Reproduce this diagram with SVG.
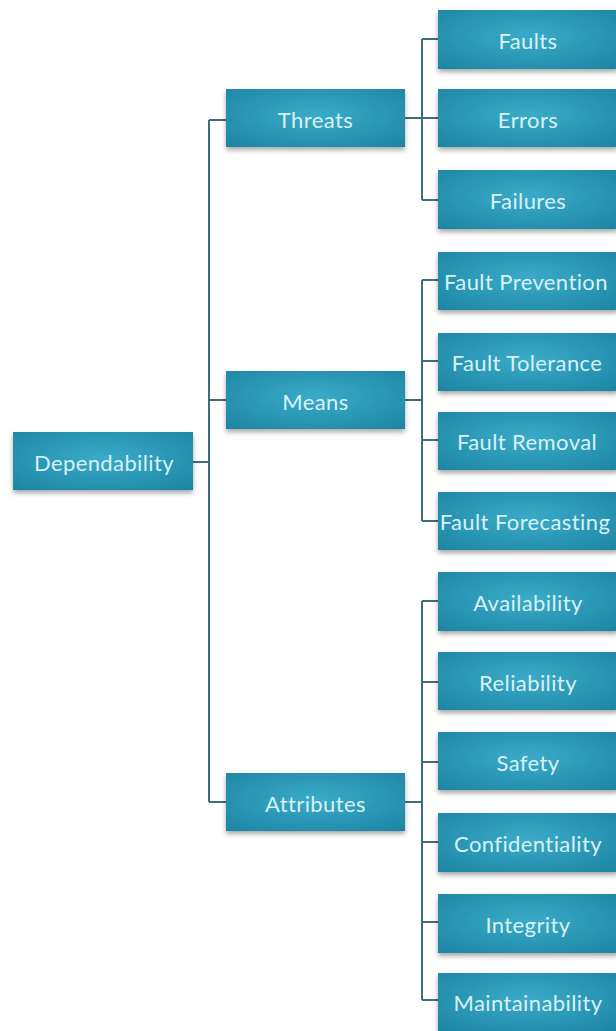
<svg xmlns="http://www.w3.org/2000/svg" width="616" height="1031" viewBox="0 0 616 1031">
<defs>
<radialGradient id="g" cx="0.5" cy="0.45" r="0.75">
<stop offset="0" stop-color="#3aabc8"/>
<stop offset="1" stop-color="#1c84a2"/>
</radialGradient>
<filter id="sh" x="-10%" y="-20%" width="120%" height="160%">
<feDropShadow dx="0" dy="3" stdDeviation="2.5" flood-color="#000" flood-opacity="0.35"/>
</filter>
</defs>
<style>
.box{fill:url(#g);filter:url(#sh)}
.t{font-family:Lato,"Open Sans","Liberation Sans",sans-serif;font-size:22px;letter-spacing:0.4px;fill:#d8f1f6;text-anchor:middle;dominant-baseline:central}
.c{fill:none;stroke:#3f6d79;stroke-width:2}
</style>
<rect width="616" height="1031" fill="#ffffff"/>
<g id="connectors">
<path class="c" d="M193 462H209M209 120V802M209 120H226M209 400H226M209 802H226"/>
<path class="c" d="M405 118H422M422 39V200M422 39H438M422 118H438M422 200H438"/>
<path class="c" d="M405 400H422M422 280V521M422 280H438M422 361H438M422 440H438M422 521H438"/>
<path class="c" d="M405 802H422M422 601V1000M422 601H438M422 682H438M422 762H438M422 842H438M422 922H438M422 1000H438"/>
</g>
<g id="dependability"><rect class="box" x="13" y="432" width="180" height="58"/><text class="t" x="104" y="462">Dependability</text></g>
<g id="threats"><rect class="box" x="226" y="89" width="179" height="58"/><text class="t" x="315.5" y="119">Threats</text></g>
<g id="means"><rect class="box" x="226" y="371" width="179" height="58"/><text class="t" x="315.5" y="401">Means</text></g>
<g id="attributes"><rect class="box" x="226" y="773" width="179" height="58"/><text class="t" x="315.5" y="803">Attributes</text></g>
<g id="faults"><rect class="box" x="438" y="10" width="180" height="59"/><text class="t" x="528" y="40">Faults</text></g>
<g id="errors"><rect class="box" x="438" y="89" width="180" height="58"/><text class="t" x="528" y="119">Errors</text></g>
<g id="failures"><rect class="box" x="438" y="170" width="180" height="59"/><text class="t" x="528" y="200">Failures</text></g>
<g id="fault-prevention"><rect class="box" x="438" y="252" width="180" height="58"/><text class="t" x="526" y="281">Fault Prevention</text></g>
<g id="fault-tolerance"><rect class="box" x="438" y="333" width="180" height="58"/><text class="t" x="527" y="362">Fault Tolerance</text></g>
<g id="fault-removal"><rect class="box" x="438" y="412" width="180" height="58"/><text class="t" x="527" y="441">Fault Removal</text></g>
<g id="fault-forecasting"><rect class="box" x="438" y="492" width="180" height="58"/><text class="t" x="525" y="521">Fault Forecasting</text></g>
<g id="availability"><rect class="box" x="438" y="572" width="180" height="59"/><text class="t" x="528" y="602">Availability</text></g>
<g id="reliability"><rect class="box" x="438" y="652" width="180" height="58"/><text class="t" x="528" y="682">Reliability</text></g>
<g id="safety"><rect class="box" x="438" y="732" width="180" height="58"/><text class="t" x="528" y="762">Safety</text></g>
<g id="confidentiality"><rect class="box" x="438" y="813" width="180" height="59"/><text class="t" x="528" y="843">Confidentiality</text></g>
<g id="integrity"><rect class="box" x="438" y="894" width="180" height="59"/><text class="t" x="528" y="924">Integrity</text></g>
<g id="maintainability"><rect class="box" x="438" y="973" width="180" height="58"/><text class="t" x="528" y="1002">Maintainability</text></g>
</svg>
